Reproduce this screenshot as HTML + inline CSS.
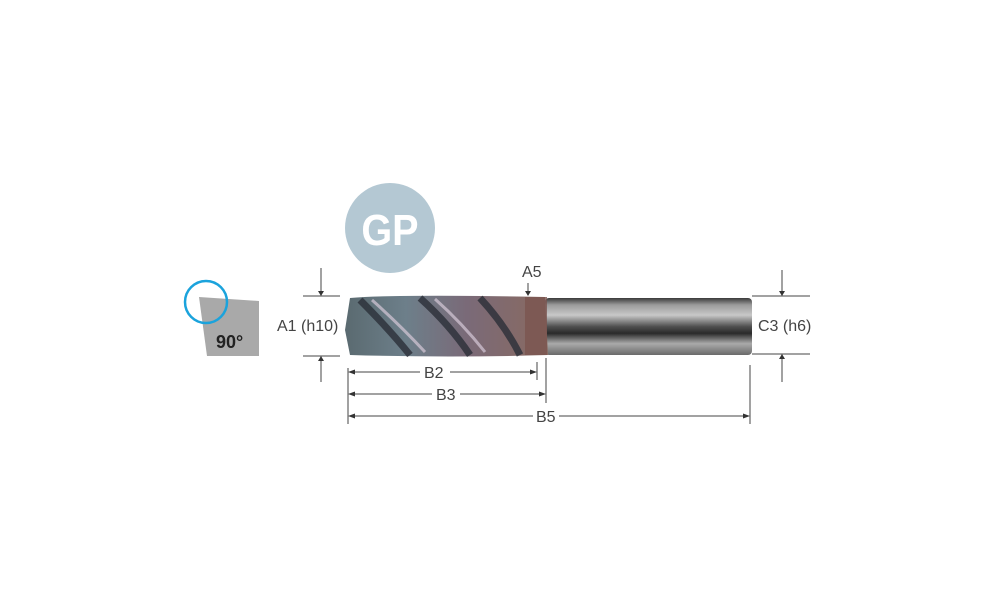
<!DOCTYPE html>
<html><head><style>html,body{margin:0;padding:0;background:#fff;}svg{display:block}</style></head>
<body>
<svg width="1000" height="611" viewBox="0 0 1000 611" xmlns="http://www.w3.org/2000/svg" font-family="Liberation Sans, sans-serif">
<defs>
<linearGradient id="sh" x1="0" y1="0" x2="0" y2="1">
<stop offset="0" stop-color="#3a3a3a"/><stop offset="0.12" stop-color="#9a9a9a"/><stop offset="0.3" stop-color="#c8c8c8"/><stop offset="0.5" stop-color="#505050"/><stop offset="0.62" stop-color="#2a2a2a"/><stop offset="0.8" stop-color="#aaaaaa"/><stop offset="1" stop-color="#6a6a6a"/>
</linearGradient>
<linearGradient id="fl" x1="0" y1="0" x2="1" y2="0">
<stop offset="0" stop-color="#5a6a70"/><stop offset="0.3" stop-color="#6d7f8a"/><stop offset="0.6" stop-color="#7a6a78"/><stop offset="1" stop-color="#8a6a60"/>
</linearGradient>
</defs>
<circle cx="390" cy="228" r="45" fill="#b4c8d3"/>
<text x="390" y="245" text-anchor="middle" font-size="44" font-weight="bold" fill="#fff" transform="translate(390 0) scale(0.9 1) translate(-390 0)">GP</text>
<polygon points="199,297 259,301 259,356 207,356" fill="#a9a9a9"/>
<circle cx="206" cy="302" r="21" fill="none" stroke="#1ba3dc" stroke-width="2.5"/>
<text x="216" y="348" font-size="18" font-weight="bold" fill="#222">90°</text>
<g stroke="#444" stroke-width="1" fill="none">
<line x1="303" y1="296" x2="340" y2="296"/><line x1="303" y1="356" x2="340" y2="356"/>
<line x1="321" y1="268" x2="321" y2="293"/><line x1="321" y1="359" x2="321" y2="382"/>
<line x1="752" y1="296" x2="810" y2="296"/><line x1="752" y1="354" x2="810" y2="354"/>
<line x1="782" y1="270" x2="782" y2="293"/><line x1="782" y1="357" x2="782" y2="382"/>
<line x1="528" y1="283" x2="528" y2="293"/>
<line x1="348" y1="368" x2="348" y2="424"/><line x1="537" y1="362" x2="537" y2="380"/>
<line x1="546" y1="358" x2="546" y2="403"/><line x1="750" y1="365" x2="750" y2="424"/>
<line x1="350" y1="372" x2="420" y2="372"/><line x1="450" y1="372" x2="534" y2="372"/>
<line x1="350" y1="394" x2="432" y2="394"/><line x1="460" y1="394" x2="543" y2="394"/>
<line x1="350" y1="416" x2="533" y2="416"/><line x1="559" y1="416" x2="747" y2="416"/>
</g>
<g fill="#333">
<polygon points="318,291 324,291 321,296"/><polygon points="318,361 324,361 321,356"/>
<polygon points="779,291 785,291 782,296"/><polygon points="779,359 785,359 782,354"/>
<polygon points="525,291 531,291 528,296"/>
<polygon points="348,372 355,369.5 355,374.5"/><polygon points="537,372 530,369.5 530,374.5"/>
<polygon points="348,394 355,391.5 355,396.5"/><polygon points="546,394 539,391.5 539,396.5"/>
<polygon points="348,416 355,413.5 355,418.5"/><polygon points="750,416 743,413.5 743,418.5"/>
</g>
<rect x="545" y="298" width="207" height="57" rx="4" fill="url(#sh)"/>
<path d="M350,298 Q400,294 545,297 L548,355 Q450,358 350,355 L345,330 Z" fill="url(#fl)"/>
<g stroke="#2b2f38" stroke-width="7" fill="none" opacity="0.8">
<path d="M360,300 Q390,330 410,355"/><path d="M420,298 Q450,325 470,355"/><path d="M480,298 Q505,325 520,355"/>
</g>
<g stroke="#d6c9d8" stroke-width="3" fill="none" opacity="0.7">
<path d="M372,300 Q400,325 425,352"/><path d="M435,299 Q462,323 485,352"/>
</g>
<rect x="525" y="297" width="22" height="58" fill="#7a5550" opacity="0.8"/>
<g font-size="16" fill="#444">
<text x="277" y="331">A1 (h10)</text>
<text x="522" y="277">A5</text>
<text x="758" y="331">C3 (h6)</text>
<text x="424" y="378">B2</text>
<text x="436" y="400">B3</text>
<text x="536" y="422">B5</text>
</g>
</svg>
</body></html>
